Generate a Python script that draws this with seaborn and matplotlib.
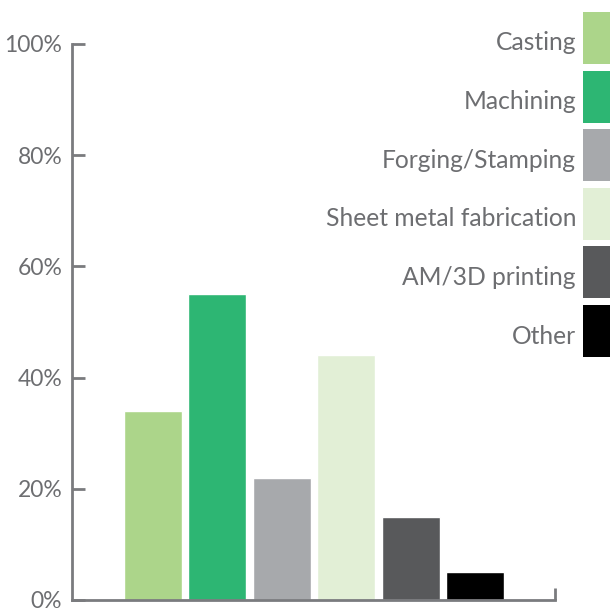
import matplotlib
matplotlib.use("Agg")
import matplotlib.pyplot as plt
from matplotlib.patches import Rectangle
from matplotlib.ticker import PercentFormatter
import seaborn as sns

# Share of respondents by manufacturing process
categories = ["Casting", "Machining", "Forging/Stamping",
              "Sheet metal fabrication", "AM/3D printing", "Other"]
values = [34, 55, 22, 44, 15, 5]
colors = ["#acd58a", "#2db673", "#a7a9ac", "#e2efd6", "#58595b", "#000000"]
y_ticks = [0, 20, 40, 60, 80, 100]

sns.set_theme(style="white")
plt.rcParams["font.family"] = ["Lato", "DejaVu Sans"]

text_color = "#6d6e71"
axis_color = "#7a7b7e"

W, H = 610, 612
fig = plt.figure(figsize=(W / 100, H / 100), dpi=100)
ax = fig.add_axes([72 / W, 12 / H, 483 / W, 556 / H])

sns.barplot(x=categories, y=values, hue=categories, palette=colors,
            legend=False, width=0.9, saturation=1, ax=ax)

ax.set_ylim(0, 100)
ax.set_xlim(-1.25, 6.24)
ax.set_yticks(y_ticks)
ax.yaxis.set_major_formatter(PercentFormatter(decimals=0))
ax.set_xticks([6.24])
ax.set_xticklabels([""])
ax.set_xlabel("")
ax.set_ylabel("")

for side in ("top", "right"):
    ax.spines[side].set_visible(False)
for side in ("left", "bottom"):
    ax.spines[side].set_color(axis_color)
    ax.spines[side].set_linewidth(2)

ax.tick_params(axis="y", direction="in", length=9, width=2, color=axis_color,
               labelcolor=text_color, labelsize=16.5, pad=7, left=True)
ax.tick_params(axis="x", direction="in", length=9, width=2, color=axis_color,
               bottom=True)

# Legend: labels right-aligned next to colour blocks at the right edge
box_h, step, top = 52, 58.6, 12
for i, (cat, col) in enumerate(zip(categories, colors)):
    y0 = top + i * step
    fig.patches.append(Rectangle((583 / W, 1 - (y0 + box_h) / H),
                                 40 / W, box_h / H, transform=fig.transFigure,
                                 facecolor=col, edgecolor="none"))
    fig.text(576 / W, 1 - (y0 + box_h / 2 + 5) / H, cat, ha="right",
             va="center", fontsize=17.7, color=text_color)

fig.savefig("out.png", dpi=100)
